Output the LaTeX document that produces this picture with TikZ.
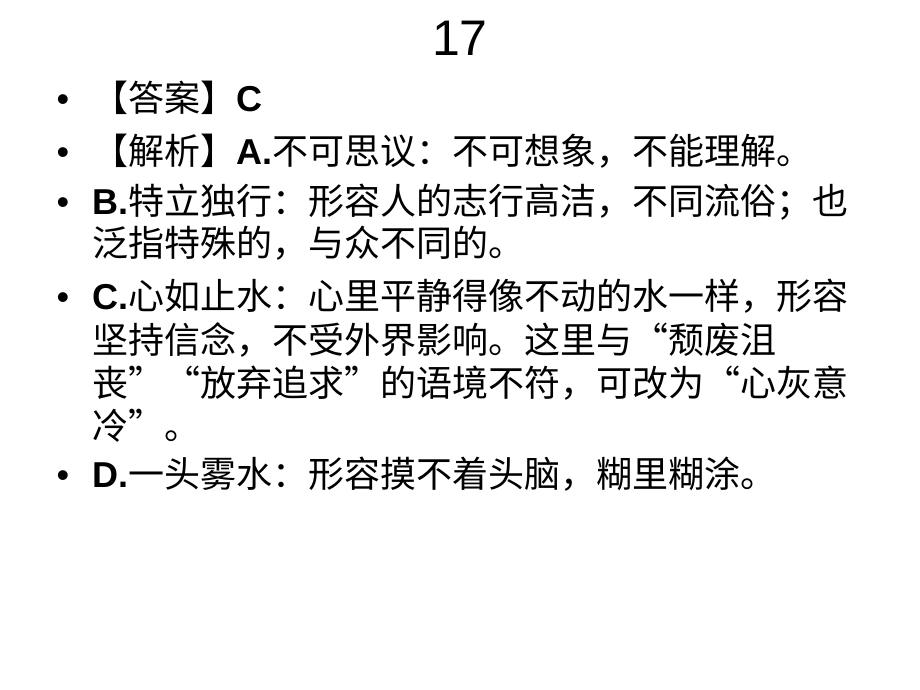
\documentclass[tikz,border=0pt]{standalone}
\usepackage{fontspec}
\setmainfont{Liberation Sans}
\newfontfamily\cjk[RawFeature=+fwid]{Noto Sans CJK SC}
\begin{document}
\begin{tikzpicture}[x=1pt,y=-1pt,
  body/.style={anchor=base west,inner sep=0pt,font=\fontsize{36pt}{43pt}\selectfont},
  bul/.style={anchor=base,inner sep=0pt,font=\fontsize{36pt}{43pt}\selectfont}]
\fill[white] (0,0) rectangle (920,690);
\useasboundingbox (0,0) rectangle (920,690);
\node[anchor=base,inner sep=0pt,font=\fontsize{50pt}{60pt}\selectfont] (title) at (460,56) {17};
\node[bul] (b1) at (63,111) {•};
\node[bul] (b2) at (63,164) {•};
\node[bul] (b3) at (63,214) {•};
\node[bul] (b4) at (63,309) {•};
\node[bul] (b5) at (63,487) {•};
\node[body] (l1) at (92,111) {{\cjk 【答案】}\textbf{C}};
\node[body] (l2) at (92,164) {{\cjk 【解析】}\textbf{A.}{\cjk 不可思议：不可想象，不能理解。}};
\node[body] (l3) at (92,214) {\textbf{B.}{\cjk 特立独行：形容人的志行高洁，不同流俗；也}};
\node[body] (l4) at (92,256) {{\cjk 泛指特殊的，与众不同的。}};
\node[body] (l5) at (92,309) {\textbf{C.}{\cjk 心如止水：心里平静得像不动的水一样，形容}};
\node[body] (l6) at (92,353) {{\cjk 坚持信念，不受外界影响。这里与“颓废沮}};
\node[body] (l7) at (92,396) {{\cjk 丧”“放弃追求”的语境不符，可改为“心灰意}};
\node[body] (l8) at (92,439) {{\cjk 冷”。}};
\node[body] (l9) at (92,487) {\textbf{D.}{\cjk 一头雾水：形容摸不着头脑，糊里糊涂。}};
\end{tikzpicture}
\end{document}
